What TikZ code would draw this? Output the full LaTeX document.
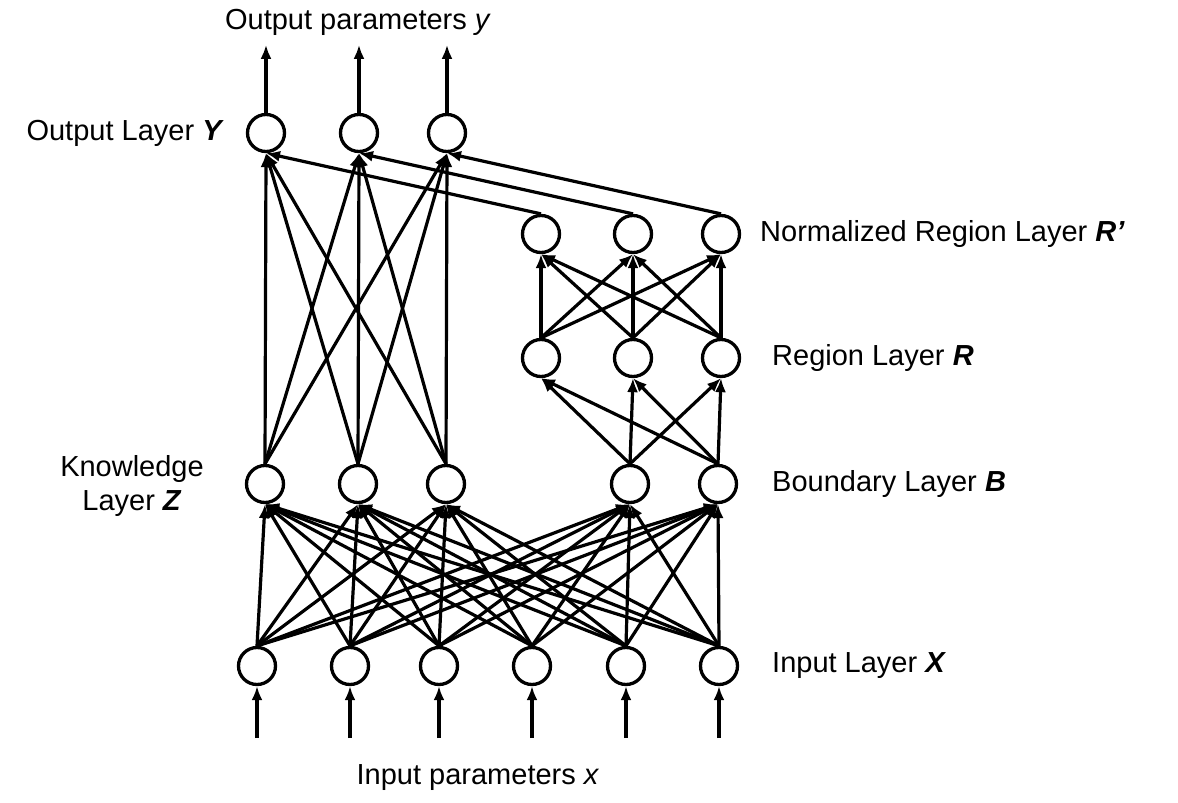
\documentclass[tikz,border=0pt]{standalone}
\usepackage{fontspec}
\setmainfont{Liberation Sans}
\usetikzlibrary{arrows.meta}
\begin{document}
\begin{tikzpicture}[x=1pt,y=-1pt,
  neuron/.style={circle,draw,line width=3.3pt,minimum size=37pt,inner sep=0pt},
  link/.style={line width=3.2pt,-{Latex[length=14pt,width=11pt]}},
  lbl/.style={font=\fontsize{29}{34}\selectfont,inner sep=0pt}]
\useasboundingbox (0,0) rectangle (1178,803);

% Output layer Y
\node[neuron] (y1) at (266,133) {};
\node[neuron] (y2) at (359,133) {};
\node[neuron] (y3) at (447,133) {};
% Normalized region layer R'
\node[neuron] (rn1) at (541,234) {};
\node[neuron] (rn2) at (633,234) {};
\node[neuron] (rn3) at (721,234) {};
% Region layer R
\node[neuron] (r1) at (541,358) {};
\node[neuron] (r2) at (633,358) {};
\node[neuron] (r3) at (721,358) {};
% Knowledge layer Z
\node[neuron] (z1) at (265,484) {};
\node[neuron] (z2) at (358,484) {};
\node[neuron] (z3) at (446,484) {};
% Boundary layer B
\node[neuron] (b1) at (630,484) {};
\node[neuron] (b2) at (718,484) {};
% Input layer X
\node[neuron] (x1) at (257,666) {};
\node[neuron] (x2) at (350,666) {};
\node[neuron] (x3) at (439,666) {};
\node[neuron] (x4) at (532,666) {};
\node[neuron] (x5) at (626,666) {};
\node[neuron] (x6) at (719,666) {};

% Free ends of the input and output arrows
\foreach \i in {1,...,6} \coordinate (in\i) at ([yshift=-52pt]x\i.south);
\foreach \i in {1,2,3} \coordinate (out\i) at ([yshift=68pt]y\i.north);

% Input arrows and output arrows
\foreach \i in {1,...,6} \draw[link] (in\i) -- (x\i.south);
\foreach \i in {1,2,3} \draw[link] (y\i.north) -- (out\i);

% X -> Z and X -> B (fully connected)
\foreach \i in {1,...,6} {
  \foreach \j in {1,2,3} \draw[link] (x\i.north) -- (z\j.south);
  \foreach \j in {1,2} \draw[link] (x\i.north) -- (b\j.south);
}
% Z -> Y
\foreach \i in {1,2,3} \foreach \j in {1,2,3} \draw[link] (z\i.north) -- (y\j.south);
% B -> R
\foreach \i in {1,2} \foreach \j in {1,2,3} \draw[link] (b\i.north) -- (r\j.south);
% R -> R'
\foreach \i in {1,2,3} \foreach \j in {1,2,3} \draw[link] (r\i.north) -- (rn\j.south);
% R' -> Y
\foreach \i in {1,2,3} \draw[link] (rn\i.north) -- (y\i.south);

% Labels
\node[lbl,anchor=south] (tout) at (358,36) {Output parameters \textit{y}};
\node[lbl,anchor=east] (ty) at (224,133) {Output Layer \textbf{\textit{Y}}};
\node[lbl,anchor=west] (trn) at (760,234) {Normalized Region Layer \textbf{\textit{R’}}};
\node[lbl,anchor=west] (tr) at (772,358) {Region Layer \textbf{\textit{R}}};
\node[lbl,anchor=west] (tb) at (772,484) {Boundary Layer \textbf{\textit{B}}};
\node[lbl,anchor=west] (tx) at (772,666) {Input Layer \textbf{\textit{X}}};
\node[lbl,align=center] (tz) at (132,486) {Knowledge\\Layer \textbf{\textit{Z}}};
\node[lbl] (tin) at (478,778) {Input parameters \textit{x}};
\end{tikzpicture}
\end{document}
